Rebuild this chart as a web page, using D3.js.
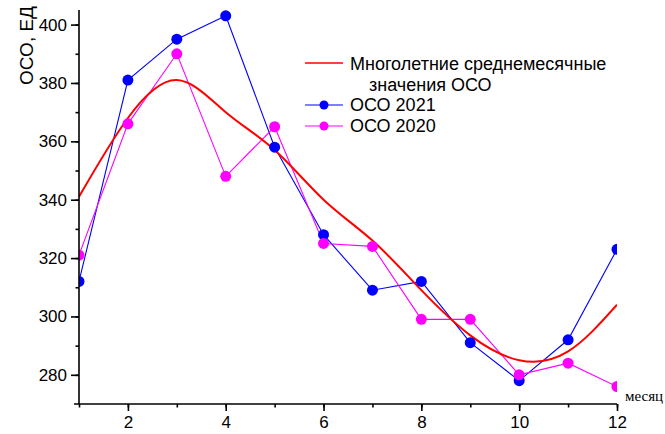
<!DOCTYPE html>
<html>
<head>
<meta charset="utf-8">
<script src="https://cdn.jsdelivr.net/npm/d3@7"></script>
<style>
  body { margin: 0; background: #fff; }
  svg { display: block; font-family: Arial, "Liberation Sans", sans-serif; }
  .axis path, .axis line { stroke: #000; stroke-width: 1.6; }
  .axis text { font-size: 17px; fill: #000; font-family: Arial, "Liberation Sans", sans-serif; }
</style>
</head>
<body>
<script>
var months = [1, 2, 3, 4, 5, 6, 7, 8, 9, 10, 11, 12];
var oco2021 = [312, 381, 395, 403, 358, 328, 309, 312, 291, 278, 292, 323];
var oco2020 = [321, 366, 390, 348, 365, 325, 324, 299, 299, 280, 284, 276];
var ocoMean = [341, 368, 381, 370, 357, 340, 326, 309, 293.5, 285, 288, 304];
var yTicks = [280, 300, 320, 340, 360, 380, 400];
var xTicks = [2, 4, 6, 8, 10, 12];

var margin = {top: 10, right: 48, bottom: 30, left: 79},
    width = 665 - margin.left - margin.right,
    height = 434 - margin.top - margin.bottom;

var x = d3.scaleLinear().domain([1, 12]).range([0, width]);
var y = d3.scaleLinear().domain([270, 405]).range([height, 0]);

var svg = d3.select("body").append("svg")
    .attr("width", 665)
    .attr("height", 434);

var g = svg.append("g")
    .attr("transform", "translate(" + margin.left + "," + margin.top + ")");

g.append("clipPath").attr("id", "clip")
  .append("rect")
    .attr("x", 0).attr("y", -10)
    .attr("width", width).attr("height", height + 10);

var plot = g.append("g").attr("clip-path", "url(#clip)");

var line = d3.line()
    .x(function(d) { return x(d[0]); })
    .y(function(d) { return y(d[1]); });

var smooth = d3.line()
    .curve(d3.curveNatural)
    .x(function(d) { return x(d[0]); })
    .y(function(d) { return y(d[1]); });

function pairs(vals) { return months.map(function(m, i) { return [m, vals[i]]; }); }

plot.append("path")
    .datum(pairs(oco2021))
    .attr("fill", "none").attr("stroke", "#0000ff").attr("stroke-width", 1.1)
    .attr("d", line);
plot.append("path")
    .datum(pairs(oco2020))
    .attr("fill", "none").attr("stroke", "#ff00ff").attr("stroke-width", 1.1)
    .attr("d", line);
plot.append("path")
    .datum(pairs(ocoMean))
    .attr("fill", "none").attr("stroke", "#ff0000").attr("stroke-width", 2)
    .attr("d", smooth);

plot.selectAll("circle.c21").data(pairs(oco2021)).enter().append("circle")
    .attr("class", "c21")
    .attr("cx", function(d) { return x(d[0]); })
    .attr("cy", function(d) { return y(d[1]); })
    .attr("r", 5.5).attr("fill", "#0000ff");
plot.selectAll("circle.c20").data(pairs(oco2020)).enter().append("circle")
    .attr("class", "c20")
    .attr("cx", function(d) { return x(d[0]); })
    .attr("cy", function(d) { return y(d[1]); })
    .attr("r", 5.5).attr("fill", "#ff00ff");

// axes: major + minor ticks
g.append("g").attr("class", "axis")
    .attr("transform", "translate(0," + height + ")")
    .call(d3.axisBottom(x).tickValues(d3.range(1, 13)).tickSize(3.5).tickFormat(""))
    .call(function(s) { s.select(".domain").remove(); });
g.append("g").attr("class", "axis")
    .attr("transform", "translate(0," + height + ")")
    .call(d3.axisBottom(x).tickValues(xTicks).tickSize(7).tickPadding(5).tickSizeOuter(0))
    .call(function(s) { s.select(".domain").attr("d", "M-5,0H" + width); });

g.append("g").attr("class", "axis")
    .call(d3.axisLeft(y).tickValues(d3.range(280, 405, 10)).tickSize(3.5).tickFormat(""))
    .call(function(s) { s.select(".domain").remove(); });
g.append("g").attr("class", "axis")
    .call(d3.axisLeft(y).tickValues(yTicks).tickSize(8).tickPadding(4).tickSizeOuter(0))
    .call(function(s) { s.select(".domain").attr("d", "M0,0V" + height); });

svg.append("text")
    .attr("transform", "translate(33,6) rotate(-90)")
    .attr("text-anchor", "end")
    .style("font-size", "19px")
    .text("ОСО, ЕД");

svg.append("text")
    .attr("x", 625).attr("y", 401)
    .style("font-family", "'Liberation Serif', 'Times New Roman', serif")
    .style("font-size", "15px")
    .text("месяц");

// legend
var lg = svg.append("g").attr("transform", "translate(305,0)");
lg.append("line").attr("x1", 0).attr("x2", 38).attr("y1", 63).attr("y2", 63)
    .attr("stroke", "#ff0000").attr("stroke-width", 1.6);
lg.append("text").attr("x", 45).attr("y", 70).style("font-size", "18px").text("Многолетние среднемесячные");
lg.append("text").attr("x", 64).attr("y", 91).style("font-size", "18px").text("значения ОСО");
[["#0000ff", "ОСО 2021", 105], ["#ff00ff", "ОСО 2020", 126]].forEach(function(d) {
  lg.append("line").attr("x1", 0).attr("x2", 38).attr("y1", d[2]).attr("y2", d[2])
      .attr("stroke", d[0]).attr("stroke-width", 1.1);
  lg.append("circle").attr("cx", 19).attr("cy", d[2]).attr("r", 4.5).attr("fill", d[0]);
  lg.append("text").attr("x", 45).attr("y", d[2] + 6).style("font-size", "18px").text(d[1]);
});
</script>
</body>
</html>
